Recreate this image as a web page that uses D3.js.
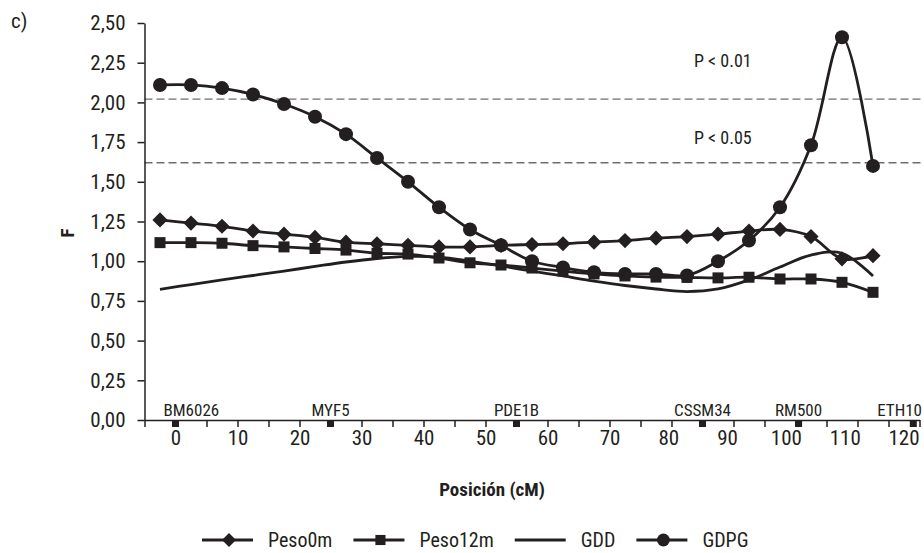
<!DOCTYPE html>
<html>
<head>
<meta charset="utf-8">
<script src="https://cdn.jsdelivr.net/npm/d3@7"></script>
<style>
    body { margin: 0; background: #fff; }
    svg { display: block; }
</style>
</head>
<body>
<div class="charts-div"></div>
<script>
// positions (cM) of the plotted points
const positions = [-2.5, 2.5, 7.5, 12.5, 17.5, 22.5, 27.5, 32.5, 37.5, 42.5, 47.5, 52.5,
    57.5, 62.5, 67.5, 72.5, 77.5, 82.5, 87.5, 92.5, 97.5, 102.5, 107.5, 112.5];

const peso0m = [1.26, 1.24, 1.22, 1.19, 1.17, 1.15, 1.12, 1.11, 1.10, 1.09, 1.09, 1.10,
    1.105, 1.11, 1.12, 1.13, 1.145, 1.155, 1.17, 1.19, 1.20, 1.155, 1.015, 1.035];
const peso12m = [1.117, 1.117, 1.113, 1.098, 1.09, 1.08, 1.07, 1.05, 1.045, 1.02, 0.99, 0.976,
    0.957, 0.938, 0.92, 0.907, 0.90, 0.898, 0.895, 0.899, 0.888, 0.888, 0.867, 0.804];
const gdd = [0.823, 0.853, 0.882, 0.91, 0.938, 0.967, 0.995, 1.017, 1.03, 1.026, 1.001, 0.97,
    0.938, 0.907, 0.875, 0.847, 0.825, 0.809, 0.825, 0.882, 0.963, 1.039, 1.05, 0.907];
const gdpg = [2.11, 2.11, 2.09, 2.05, 1.99, 1.91, 1.80, 1.65, 1.50, 1.34, 1.20, 1.10,
    1.00, 0.96, 0.93, 0.92, 0.92, 0.91, 1.00, 1.13, 1.34, 1.73, 2.41, 1.60];

const seriesNames = ["Peso0m", "Peso12m", "GDD", "GDPG"];
const thresholds = [2.02, 1.62];
const thresholdLabels = ["P < 0.01", "P < 0.05"];

const yTicks = [0, 0.25, 0.5, 0.75, 1, 1.25, 1.5, 1.75, 2, 2.25, 2.5];
const xTicks = [-5, 0, 5, 10, 15, 20, 25, 30, 35, 40, 45, 50, 55, 60, 65, 70, 75, 80, 85, 90,
    95, 100, 105, 110, 115, 120];

const markerNames = ["BM6026", "MYF5", "PDE1B", "CSSM34", "RM500", "ETH10"];
const markerPos = [0, 25, 55, 85, 100.5, 119];

const chartGeneration = () => {
    const W = 924, H = 553;
    const ink = "#231f20";
    const font = "'Liberation Sans Narrow', 'Arial Narrow', 'Roboto Condensed', 'DejaVu Sans Condensed', sans-serif";

    const x = d3.scaleLinear().domain([-5, 120]).range([144.5, 919.5]);
    const y = d3.scaleLinear().domain([0, 2.5]).range([420, 23]);

    const svg = d3.select(".charts-div").append("svg")
        .attr("width", W).attr("height", H)
        .attr("font-family", font)
        .attr("fill", ink);

    // significance thresholds
    svg.selectAll("line.threshold")
        .data(thresholds)
        .join("line")
        .attr("class", "threshold")
        .attr("x1", x(-5)).attr("x2", W)
        .attr("y1", (d) => y(d)).attr("y2", (d) => y(d))
        .attr("stroke", "#6d6e70")
        .attr("stroke-width", 1.3)
        .attr("stroke-dasharray", "8,4");

    // label lift above each threshold line, in px
    const liftPx = [38, 25];
    svg.selectAll("text.threshold-label")
        .data(thresholds)
        .join("text")
        .attr("class", "threshold-label")
        .attr("x", 694)
        .attr("y", (d, i) => y(d) - liftPx[i] + 6)
        .attr("font-size", 18)
        .text((d, i) => thresholdLabels[i]);

    // axes
    const comma = (d) => d3.format(".2f")(d).replace(".", ",");
    const yAxis = svg.append("g")
        .attr("transform", `translate(${x(-5)},0)`)
        .call(d3.axisLeft(y).tickValues(yTicks).tickFormat(comma).tickSize(7).tickSizeOuter(0).tickPadding(12));

    const xAxis = svg.append("g")
        .attr("transform", `translate(0,${y(0)})`)
        .call(d3.axisBottom(x).tickValues(xTicks)
            .tickFormat((d) => (d >= 0 && d % 10 === 0 ? d : ""))
            .tickSize(7).tickSizeOuter(0).tickPadding(3));

    [yAxis, xAxis].forEach((g) => {
        g.attr("font-family", font).attr("font-size", 21);
        g.selectAll("path, line").attr("stroke", ink).attr("stroke-width", 1.5);
        g.selectAll("text").attr("fill", ink);
    });

    // the printed cM labels drift left of their ticks towards the right end
    const labelX = d3.scaleLinear().domain([0, 70, 120]).range([x(0), x(70), x(120) - 16]);
    xAxis.selectAll(".tick text")
        .attr("x", (d) => (d >= 0 && d % 10 === 0 ? labelX(d) - x(d) : 0));

    // genetic markers on the x axis
    svg.selectAll("rect.marker")
        .data(markerPos)
        .join("rect")
        .attr("class", "marker")
        .attr("x", (d) => x(d) - 3.5)
        .attr("y", y(0))
        .attr("width", 7).attr("height", 7)
        .attr("fill", ink);

    const markerText = svg.selectAll("text.marker-name")
        .data(markerPos)
        .join("text")
        .attr("class", "marker-name")
        .attr("font-size", 17)
        .attr("y", y(0) - 4)
        .text((d, i) => markerNames[i]);
    markerText.each(function (d) {
        const w = this.getComputedTextLength();
        let left = x(d) - w / 2;
        left = Math.max(left, x(-5) + 19);
        left = Math.min(left, W - 2 - w);
        d3.select(this).attr("x", left);
    });

    // series
    const line = d3.line()
        .x((d, i) => x(positions[i]))
        .y((d) => y(d))
        .curve(d3.curveCatmullRom.alpha(0.5));

    const series = [
        { name: seriesNames[1], values: peso12m, shape: "square" },
        { name: seriesNames[2], values: gdd, shape: null },
        { name: seriesNames[0], values: peso0m, shape: "diamond" },
        { name: seriesNames[3], values: gdpg, shape: "circle" }
    ];

    const drawShape = (g, shape, cx, cy, scale = 1) => {
        if (shape === "circle") {
            g.append("circle").attr("cx", cx).attr("cy", cy).attr("r", 7 * scale).attr("fill", ink);
        } else if (shape === "square") {
            const s = 11 * scale;
            g.append("rect").attr("x", cx - s / 2).attr("y", cy - s / 2).attr("width", s).attr("height", s).attr("fill", ink);
        } else if (shape === "diamond") {
            g.append("path")
                .attr("d", d3.symbol(d3.symbolSquare, 115 * scale * scale)())
                .attr("transform", `translate(${cx},${cy}) rotate(45)`)
                .attr("fill", ink);
        }
    };

    series.forEach((s) => {
        const g = svg.append("g").attr("class", "series");
        g.append("path")
            .datum(s.values)
            .attr("d", line)
            .attr("fill", "none")
            .attr("stroke", ink)
            .attr("stroke-width", 2.8);
        if (s.shape) {
            s.values.forEach((v, i) => drawShape(g, s.shape, x(positions[i]), y(v)));
        }
    });

    // axis titles
    svg.append("text")
        .attr("transform", "translate(74,233) rotate(-90)")
        .attr("text-anchor", "middle")
        .attr("font-size", 19)
        .attr("font-weight", "bold")
        .text("F");

    svg.append("text")
        .attr("x", 492).attr("y", 496)
        .attr("text-anchor", "middle")
        .attr("font-size", 19)
        .attr("font-weight", "bold")
        .text("Posición (cM)");

    svg.append("text")
        .attr("x", 11).attr("y", 28)
        .attr("font-size", 21)
        .text("c)");

    // legend
    const legendShapes = { Peso0m: "diamond", Peso12m: "square", GDD: null, GDPG: "circle" };
    const legend = svg.append("g").attr("class", "legend");
    let lx = 202;
    const ly = 540;
    seriesNames.forEach((name) => {
        legend.append("line")
            .attr("x1", lx).attr("x2", lx + 51)
            .attr("y1", ly).attr("y2", ly)
            .attr("stroke", ink).attr("stroke-width", 2.8);
        drawShape(legend, legendShapes[name], lx + 27, ly, 0.92);
        const t = legend.append("text")
            .attr("x", lx + 66)
            .attr("y", ly + 7)
            .attr("font-size", 20)
            .text(name);
        lx += 66 + t.node().getComputedTextLength() + 21;
    });
};

chartGeneration();
</script>
</body>
</html>
